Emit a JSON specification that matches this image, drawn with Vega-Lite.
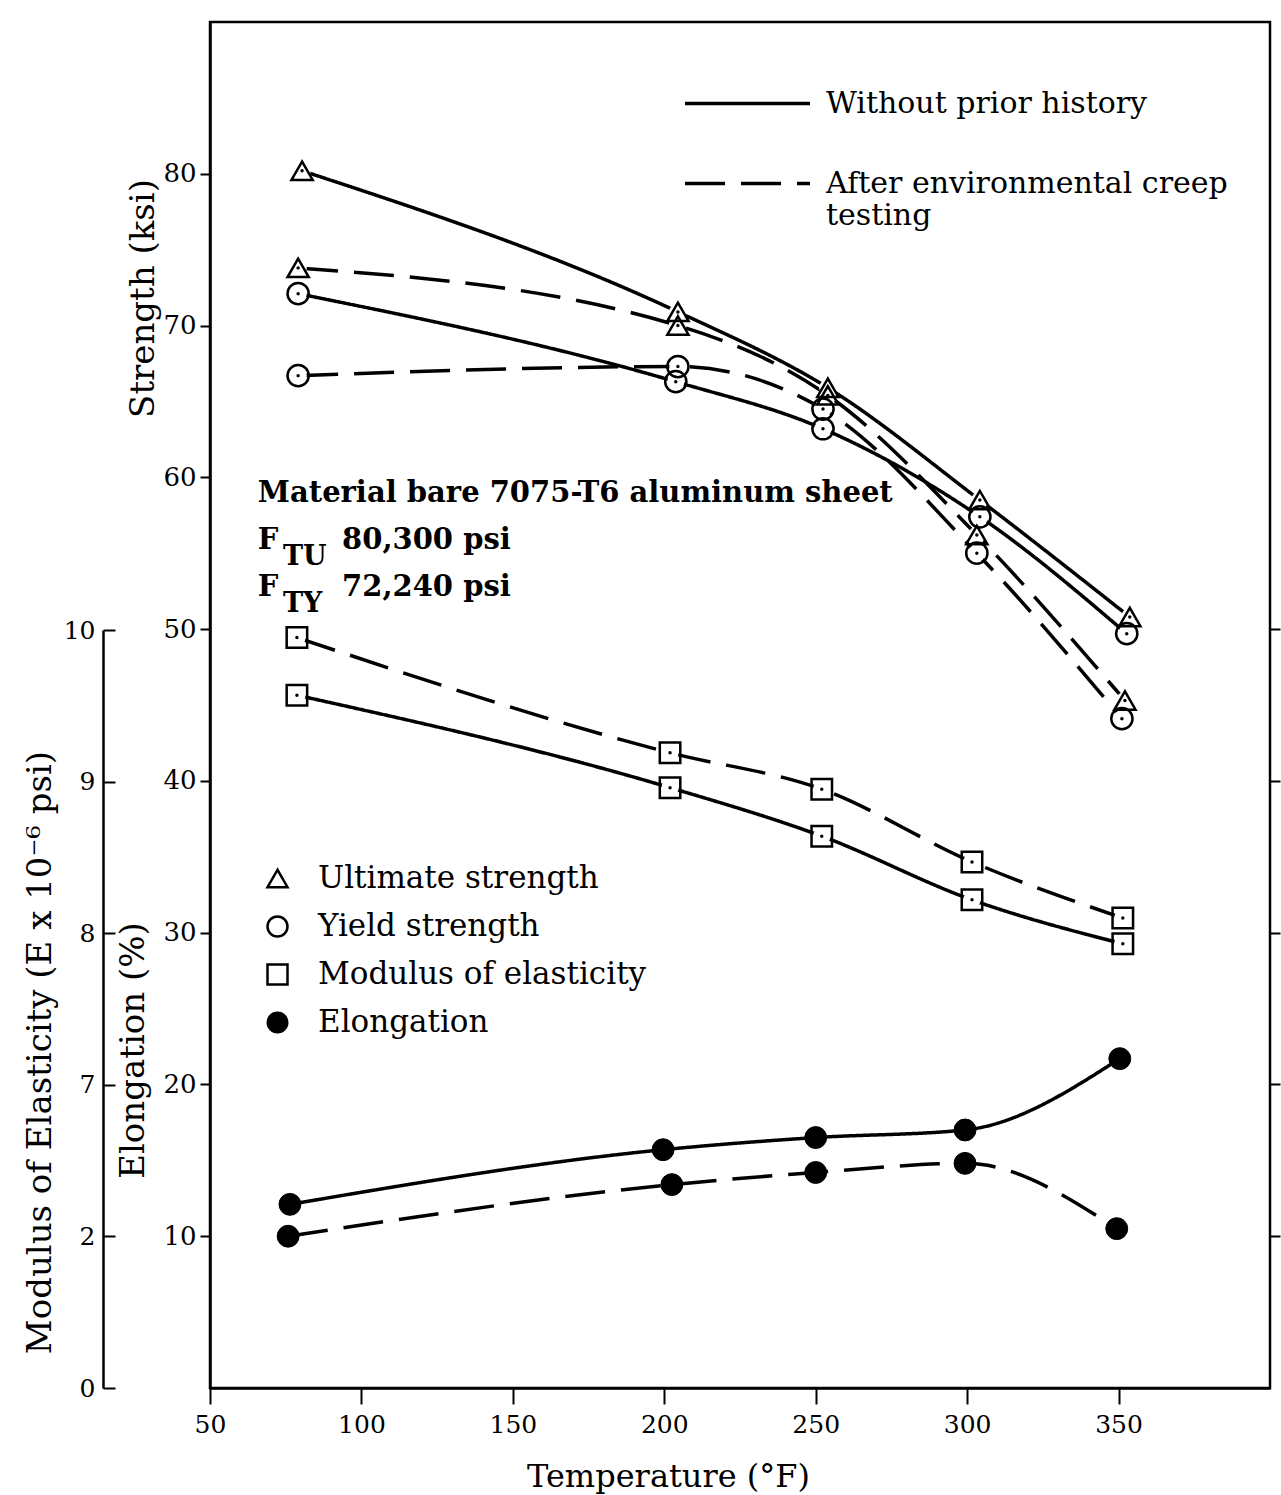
{
  "$schema": "https://vega.github.io/schema/vega-lite/v6.json",
  "width": 1060,
  "height": 1366,
  "autosize": "none",
  "padding": {"left": 210, "top": 22, "right": 11, "bottom": 107},
  "background": "white",
  "config": {
    "font": "DejaVu Serif",
    "view": {"stroke": "black", "strokeWidth": 2.5},
    "axis": {"domainColor": "black", "domainWidth": 2.5, "tickColor": "black", "tickWidth": 2, "labelColor": "black", "titleColor": "black", "labelFont": "DejaVu Serif", "titleFont": "DejaVu Serif", "titleFontWeight": "normal", "grid": false},
    "legend": {"labelColor": "black", "labelFont": "DejaVu Serif", "labelLimit": 0}
  },
  "layer": [
    {
      "data": {"values": [
        {"t": 80.4, "v": 80.2, "prop": "Ultimate strength", "cond": "Without prior history"},
        {"t": 204.5, "v": 70.9, "prop": "Ultimate strength", "cond": "Without prior history"},
        {"t": 254, "v": 65.9, "prop": "Ultimate strength", "cond": "Without prior history"},
        {"t": 304.2, "v": 58.5, "prop": "Ultimate strength", "cond": "Without prior history"},
        {"t": 353.7, "v": 50.8, "prop": "Ultimate strength", "cond": "Without prior history"},
        {"t": 79.1, "v": 73.8, "prop": "Ultimate strength", "cond": "After environmental creep testing"},
        {"t": 204.5, "v": 70.0, "prop": "Ultimate strength", "cond": "After environmental creep testing"},
        {"t": 254, "v": 65.4, "prop": "Ultimate strength", "cond": "After environmental creep testing"},
        {"t": 303.2, "v": 56.2, "prop": "Ultimate strength", "cond": "After environmental creep testing"},
        {"t": 352.1, "v": 45.3, "prop": "Ultimate strength", "cond": "After environmental creep testing"},
        {"t": 79.1, "v": 72.1, "prop": "Yield strength", "cond": "Without prior history"},
        {"t": 203.8, "v": 66.3, "prop": "Yield strength", "cond": "Without prior history"},
        {"t": 252.4, "v": 63.2, "prop": "Yield strength", "cond": "Without prior history"},
        {"t": 304.2, "v": 57.4, "prop": "Yield strength", "cond": "Without prior history"},
        {"t": 352.7, "v": 49.7, "prop": "Yield strength", "cond": "Without prior history"},
        {"t": 79.1, "v": 66.7, "prop": "Yield strength", "cond": "After environmental creep testing"},
        {"t": 204.5, "v": 67.3, "prop": "Yield strength", "cond": "After environmental creep testing"},
        {"t": 252.4, "v": 64.5, "prop": "Yield strength", "cond": "After environmental creep testing"},
        {"t": 303.2, "v": 55.0, "prop": "Yield strength", "cond": "After environmental creep testing"},
        {"t": 351.1, "v": 44.1, "prop": "Yield strength", "cond": "After environmental creep testing"}
      ]},
      "encoding": {
        "x": {
          "field": "t", "type": "quantitative",
          "scale": {"domain": [50, 400], "nice": false, "zero": false},
          "axis": {"title": "Temperature (°F)", "values": [50, 100, 150, 200, 250, 300, 350], "labelFlush": false, "tickSize": 16, "labelPadding": 8, "labelFontSize": 25, "titleFontSize": 32, "titleX": 458, "titleY": 73}
        },
        "y": {
          "field": "v", "type": "quantitative",
          "scale": {"domain": [0, 90], "nice": false, "zero": false},
          "axis": {"orient": "left", "title": "Strength (ksi)", "values": [10, 20, 30, 40, 50, 60, 70, 80], "tickSize": 10, "labelPadding": 4, "labelFontSize": 26, "titleFontSize": 34, "titleX": -50, "titleY": 276}
        }
      },
      "layer": [
        {
          "mark": {"type": "line", "interpolate": "monotone", "strokeWidth": 3.5, "color": "black"},
          "encoding": {
            "detail": {"field": "prop"},
            "strokeDash": {
              "field": "cond", "type": "nominal",
              "scale": {"domain": ["Without prior history", "After environmental creep testing"], "range": [[1, 0], [40, 16]]},
              "legend": {"title": null, "orient": "none", "legendX": 473, "legendY": 17, "symbolType": "stroke", "symbolSize": 15625, "symbolStrokeWidth": 3.5, "symbolStrokeColor": "black", "labelFontSize": 30, "labelOffset": 14, "rowPadding": -85, "labelExpr": "datum.label == 'After environmental creep testing' ? ['After environmental creep', 'testing'] : datum.label"}
            }
          }
        },
        {
          "mark": {"type": "point", "shape": "circle", "filled": true, "color": "white", "size": 300, "opacity": 1}
        },
        {
          "mark": {"type": "point", "filled": false, "stroke": "black", "strokeWidth": 2.5, "size": 450, "opacity": 1},
          "encoding": {
            "shape": {
              "field": "prop", "type": "nominal",
              "scale": {"domain": ["Ultimate strength", "Yield strength", "Modulus of elasticity"], "range": ["triangle-up", "circle", "square"]},
              "legend": {"title": null, "orient": "none", "legendX": 52, "legendY": 841, "symbolSize": 400, "symbolStrokeWidth": 2.5, "symbolStrokeColor": "black", "labelFontSize": 31, "labelOffset": 25, "rowPadding": 16}
            }
          }
        },
        {
          "mark": {"type": "point", "shape": "circle", "filled": true, "color": "black", "size": 12, "opacity": 1}
        }
      ]
    },
    {
      "data": {"values": [
        {"t": 78.7, "m": 9.57, "prop": "Modulus of elasticity", "cond": "Without prior history"},
        {"t": 201.9, "m": 8.96, "prop": "Modulus of elasticity", "cond": "Without prior history"},
        {"t": 252, "m": 8.64, "prop": "Modulus of elasticity", "cond": "Without prior history"},
        {"t": 301.6, "m": 8.22, "prop": "Modulus of elasticity", "cond": "Without prior history"},
        {"t": 351.4, "m": 7.93, "prop": "Modulus of elasticity", "cond": "Without prior history"},
        {"t": 78.7, "m": 9.95, "prop": "Modulus of elasticity", "cond": "After environmental creep testing"},
        {"t": 201.9, "m": 9.19, "prop": "Modulus of elasticity", "cond": "After environmental creep testing"},
        {"t": 252, "m": 8.95, "prop": "Modulus of elasticity", "cond": "After environmental creep testing"},
        {"t": 301.6, "m": 8.47, "prop": "Modulus of elasticity", "cond": "After environmental creep testing"},
        {"t": 351.4, "m": 8.10, "prop": "Modulus of elasticity", "cond": "After environmental creep testing"}
      ]},
      "encoding": {
        "x": {"field": "t", "type": "quantitative", "scale": {"domain": [50, 400], "nice": false, "zero": false}},
        "y": {
          "field": "m", "type": "quantitative",
          "scale": {"domain": [5, 10], "range": [1366, 608], "nice": false, "zero": false},
          "axis": {"orient": "left", "offset": 107, "title": "Modulus of Elasticity (E x 10⁻⁶ psi)", "values": [5, 6, 7, 8, 9, 10], "labelExpr": "datum.value == 5 ? '0' : (datum.value == 6 ? '2' : datum.label)", "tickSize": -12, "labelPadding": 20, "labelFontSize": 25, "titleFontSize": 34, "titleX": -46, "titleY": 1030}
        }
      },
      "layer": [
        {
          "mark": {"type": "line", "interpolate": "monotone", "strokeWidth": 3.5, "color": "black"},
          "encoding": {"strokeDash": {"field": "cond", "type": "nominal"}}
        },
        {
          "mark": {"type": "point", "shape": "circle", "filled": true, "color": "white", "size": 300, "opacity": 1}
        },
        {
          "mark": {"type": "point", "filled": false, "stroke": "black", "strokeWidth": 2.5, "size": 420, "opacity": 1},
          "encoding": {"shape": {"field": "prop", "type": "nominal"}}
        },
        {
          "mark": {"type": "point", "shape": "circle", "filled": true, "color": "black", "size": 12, "opacity": 1}
        }
      ]
    },
    {
      "data": {"values": [
        {"t": 76.4, "e": 12.1, "prop": "Elongation", "cond": "Without prior history"},
        {"t": 199.6, "e": 15.7, "prop": "Elongation", "cond": "Without prior history"},
        {"t": 250, "e": 16.5, "prop": "Elongation", "cond": "Without prior history"},
        {"t": 299.3, "e": 17.0, "prop": "Elongation", "cond": "Without prior history"},
        {"t": 350.4, "e": 21.7, "prop": "Elongation", "cond": "Without prior history"},
        {"t": 75.8, "e": 10.0, "prop": "Elongation", "cond": "After environmental creep testing"},
        {"t": 202.5, "e": 13.4, "prop": "Elongation", "cond": "After environmental creep testing"},
        {"t": 250, "e": 14.2, "prop": "Elongation", "cond": "After environmental creep testing"},
        {"t": 299.3, "e": 14.8, "prop": "Elongation", "cond": "After environmental creep testing"},
        {"t": 349.4, "e": 10.5, "prop": "Elongation", "cond": "After environmental creep testing"}
      ]},
      "encoding": {
        "x": {"field": "t", "type": "quantitative", "scale": {"domain": [50, 400], "nice": false, "zero": false}},
        "y": {
          "field": "e", "type": "quantitative",
          "scale": {"domain": [0, 90], "nice": false, "zero": false},
          "axis": {"orient": "right", "title": null, "values": [10, 20, 30, 40, 50], "labels": false, "domain": false, "tickSize": 10}
        }
      },
      "layer": [
        {
          "mark": {"type": "line", "interpolate": "monotone", "strokeWidth": 3.5, "color": "black"},
          "encoding": {"strokeDash": {"field": "cond", "type": "nominal"}}
        },
        {
          "mark": {"type": "point", "shape": "circle", "filled": true, "stroke": "black", "strokeWidth": 1, "size": 480, "opacity": 1},
          "encoding": {
            "fill": {
              "field": "prop", "type": "nominal",
              "scale": {"domain": ["Elongation"], "range": ["black"]},
              "legend": {"title": null, "orient": "none", "legendX": 52, "legendY": 985, "symbolType": "circle", "symbolSize": 420, "symbolStrokeColor": "black", "labelFontSize": 31, "labelOffset": 25}
            }
          }
        }
      ]
    },
    {
      "layer": [
        {
          "data": {"values": [{"label": "Material bare 7075-T6 aluminum sheet"}]},
          "mark": {"type": "text", "align": "left", "baseline": "alphabetic", "fontSize": 29, "fontWeight": "bold", "color": "black"},
          "encoding": {"x": {"datum": 65.8}, "y": {"datum": 58.4, "scale": {"domain": [0, 90], "nice": false, "zero": false}, "axis": {"orient": "left", "title": "Elongation (%)", "labels": false, "ticks": false, "domain": false, "titleFontSize": 34, "titleX": -60, "titleY": 1028}}, "text": {"field": "label"}}
        },
        {
          "data": {"values": [{"label": "F"}]},
          "mark": {"type": "text", "align": "left", "baseline": "alphabetic", "fontSize": 29, "fontWeight": "bold", "color": "black"},
          "encoding": {"x": {"datum": 65.8}, "y": {"datum": 55.3}, "text": {"field": "label"}}
        },
        {
          "data": {"values": [{"label": "TU"}]},
          "mark": {"type": "text", "align": "left", "baseline": "alphabetic", "fontSize": 27, "fontWeight": "bold", "color": "black"},
          "encoding": {"x": {"datum": 74.1}, "y": {"datum": 54.2}, "text": {"field": "label"}}
        },
        {
          "data": {"values": [{"label": "80,300 psi"}]},
          "mark": {"type": "text", "align": "left", "baseline": "alphabetic", "fontSize": 29, "fontWeight": "bold", "color": "black"},
          "encoding": {"x": {"datum": 93.6}, "y": {"datum": 55.3}, "text": {"field": "label"}}
        },
        {
          "data": {"values": [{"label": "F"}]},
          "mark": {"type": "text", "align": "left", "baseline": "alphabetic", "fontSize": 29, "fontWeight": "bold", "color": "black"},
          "encoding": {"x": {"datum": 65.8}, "y": {"datum": 52.2}, "text": {"field": "label"}}
        },
        {
          "data": {"values": [{"label": "TY"}]},
          "mark": {"type": "text", "align": "left", "baseline": "alphabetic", "fontSize": 27, "fontWeight": "bold", "color": "black"},
          "encoding": {"x": {"datum": 74.1}, "y": {"datum": 51.1}, "text": {"field": "label"}}
        },
        {
          "data": {"values": [{"label": "72,240 psi"}]},
          "mark": {"type": "text", "align": "left", "baseline": "alphabetic", "fontSize": 29, "fontWeight": "bold", "color": "black"},
          "encoding": {"x": {"datum": 93.6}, "y": {"datum": 52.2}, "text": {"field": "label"}}
        }
      ]
    }
  ],
  "resolve": {"scale": {"y": "independent"}, "axis": {"y": "independent"}}
}
